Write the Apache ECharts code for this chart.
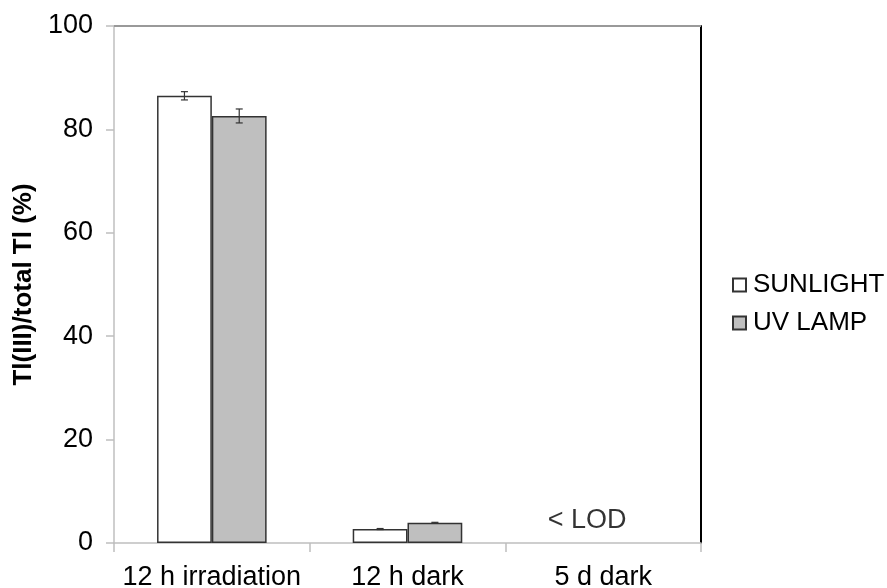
<!DOCTYPE html>
<html>
<head>
<meta charset="utf-8">
<script src="https://cdn.jsdelivr.net/npm/echarts@6/dist/echarts.min.js"></script>
<style>
  html, body { margin: 0; padding: 0; background: #fff; }
  #main { width: 887px; height: 588px; }
</style>
</head>
<body>
<div id="main"></div>
<script>
var categories = ["12 h irradiation", "12 h dark", "5 d dark"];
// "5 d dark" was below the limit of detection, so no bar
var sunlight = [86.5, 2.7, null];
var sunlightErr = [0.8, 0.1, null];
var uvLamp = [82.6, 3.9, null];
var uvLampErr = [1.35, 0.1, null];
var yTicks = [0, 20, 40, 60, 80, 100];
var lodNote = { category: "5 d dark", value: 4.4, text: "< LOD" };

var chart = echarts.init(document.getElementById("main"));
var font = "Liberation Sans, Arial, sans-serif";

// error bar drawn at the centre of each bar of one series
function errorSeries(name, values, errs, offset) {
  var data = [];
  values.forEach(function (v, i) {
    if (v != null && errs[i] != null) data.push([i, v - errs[i], v + errs[i]]);
  });
  return {
    name: name + " err",
    type: "custom",
    z: 10,
    silent: true,
    data: data,
    renderItem: function (params, api) {
      var bw = api.size([1, 0])[0] * 0.28;
      var low = api.coord([api.value(0), api.value(1)]);
      var high = api.coord([api.value(0), api.value(2)]);
      var x = low[0] + offset * bw;
      var cap = 3.5;
      var st = { stroke: "#333", lineWidth: 1.2 };
      return {
        type: "group",
        children: [
          { type: "line", shape: { x1: x, y1: low[1], x2: x, y2: high[1] }, style: st },
          { type: "line", shape: { x1: x - cap, y1: low[1], x2: x + cap, y2: low[1] }, style: st },
          { type: "line", shape: { x1: x - cap, y1: high[1], x2: x + cap, y2: high[1] }, style: st }
        ]
      };
    }
  };
}

chart.setOption({
  animation: false,
  grid: {
    left: 114, right: 186, top: 26, bottom: 45,
    outerBoundsMode: "none"
  },
  legend: {
    orient: "vertical",
    left: 727,
    top: 267,
    itemWidth: 13,
    itemHeight: 13,
    itemGap: 12,
    icon: "rect",
    data: ["SUNLIGHT", "UV LAMP"],
    textStyle: { fontSize: 26, color: "#000", fontFamily: font, padding: [0, 0, 0, 2] }
  },
  xAxis: {
    type: "category",
    data: categories,
    axisLine: { lineStyle: { color: "#bfbfbf", width: 1.5 } },
    axisTick: { show: true, length: 9, lineStyle: { color: "#bfbfbf", width: 1.5 } },
    axisLabel: { interval: 0, fontSize: 27, color: "#000", fontFamily: font, margin: 21 }
  },
  yAxis: [
    {
      type: "value",
      min: 0,
      max: 100,
      interval: 20,
      name: "Tl(III)/total Tl (%)",
      nameLocation: "middle",
      nameGap: 70,
      nameTextStyle: { fontSize: 26, fontWeight: "bold", color: "#000", fontFamily: font },
      axisLine: { show: true, lineStyle: { color: "#bfbfbf", width: 1.5 } },
      axisTick: { show: true, length: 8, lineStyle: { color: "#bfbfbf", width: 1.5 } },
      axisLabel: {
        fontSize: 27, color: "#000", fontFamily: font, margin: 21,
        formatter: function (v) { return yTicks.indexOf(v) >= 0 ? String(v) : ""; }
      },
      splitLine: { show: false }
    },
    {
      // right frame line
      type: "value",
      position: "right",
      min: 0,
      max: 100,
      axisLine: { show: true, onZero: false, lineStyle: { color: "#000", width: 2 } },
      axisTick: { show: false },
      axisLabel: { show: false },
      splitLine: { show: false }
    }
  ],
  series: [
    {
      name: "SUNLIGHT",
      type: "bar",
      data: sunlight,
      clip: false,
      barWidth: "28%",
      barGap: "0%",
      itemStyle: { color: "#fff", borderColor: "#333", borderWidth: 1.5 },
      // top frame line at the axis maximum
      markLine: {
        silent: true,
        symbol: "none",
        label: { show: false },
        lineStyle: { type: "solid", color: "#999", width: 2 },
        data: [{ yAxis: 100 }]
      }
    },
    {
      name: "UV LAMP",
      type: "bar",
      data: uvLamp,
      barWidth: "28%",
      barGap: "0%",
      itemStyle: { color: "#bfbfbf", borderColor: "#333", borderWidth: 1.5 }
    },
    errorSeries("SUNLIGHT", sunlight, sunlightErr, -0.5),
    errorSeries("UV LAMP", uvLamp, uvLampErr, 0.5),
    {
      name: "note",
      type: "scatter",
      symbolSize: 0,
      silent: true,
      data: [[lodNote.category, lodNote.value]],
      label: {
        show: true,
        position: "inside",
        offset: [-16, 0],
        formatter: lodNote.text,
        fontSize: 27,
        color: "#000",
        fontFamily: font
      }
    }
  ]
});
</script>
</body>
</html>
